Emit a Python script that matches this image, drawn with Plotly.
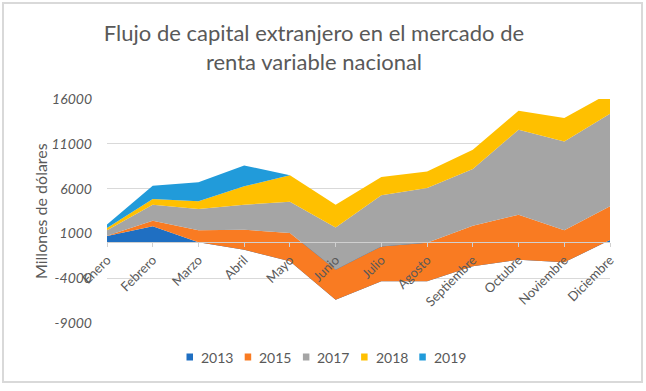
import plotly.graph_objects as go

months = ["Enero", "Febrero", "Marzo", "Abril", "Mayo", "Junio", "Julio",
          "Agosto", "Septiembre", "Octubre", "Noviembre", "Diciembre"]

y2013 = [700, 1790, 0, -820, -2120, -6400, -4350, -4350, -2680, -1930, -2230, 250]
y2015 = [50, 630, 1340, 2230, 3160, 3350, 3900, 4300, 4540, 5020, 3570, 3770]
y2017 = [600, 1780, 2380, 2790, 3500, 4720, 5700, 6110, 6320, 9480, 9930, 10340]
y2018 = [260, 640, 860, 2050, 2940, 2530, 2040, 1860, 2160, 2120, 2610, 2340]
y2019 = [370, 1480, 2120, 2340, 0, 0, 0, 0, 0, 0, 0, 0]

series_names = ["2013", "2015", "2017", "2018", "2019"]
series_values = [y2013, y2015, y2017, y2018, y2019]
colors = ["#1F6FC2", "#F97B22", "#A5A5A5", "#FFC000", "#219BDA"]

y_ticks = [-9000, -4000, 1000, 6000, 11000, 16000]

TXT = "#595959"
FONT = "Lato"

# layout geometry (pixels)
W, H = 646, 391
L, R, T, B = 107, 36, 99, 68
PW, PH = W - L - R, H - T - B


def px(x):
    return (x - L) / PW


def py(y):
    return (H - B - y) / PH


fig = go.Figure()
for name, vals, col in zip(series_names, series_values, colors):
    fig.add_trace(go.Scatter(
        x=months, y=vals, name=name, stackgroup="one", mode="none",
        fillcolor=col, line=dict(width=0), showlegend=False, hoverinfo="x+y+name"))

# legend drawn as squares + text, horizontally centred under the chart
legend_start, legend_step, legend_y = 186.5, 58.2, 357
shapes = [dict(type="rect", xref="paper", yref="paper",
               x0=px(3), x1=px(642), y0=py(382), y1=py(3),
               line=dict(color="#D9D9D9", width=2), layer="below")]
annotations = [dict(text="Millones de dólares", textangle=-90, showarrow=False,
                    xref="paper", yref="paper", x=px(40), y=py(211),
                    xanchor="center", yanchor="middle",
                    font=dict(size=16, color=TXT, family=FONT))]
for i, (name, col) in enumerate(zip(series_names, colors)):
    x0 = legend_start + i * legend_step
    shapes.append(dict(type="rect", xref="paper", yref="paper",
                       x0=px(x0), x1=px(x0 + 6.5), y0=py(legend_y + 3.5), y1=py(legend_y - 3.5),
                       fillcolor=col, line=dict(width=0)))
    annotations.append(dict(text=name, showarrow=False, xref="paper", yref="paper",
                            x=px(x0 + 12.5), y=py(legend_y), xanchor="left", yanchor="middle",
                            font=dict(size=14, color=TXT, family=FONT)))

fig.update_layout(
    width=W, height=H,
    margin=dict(l=L, r=R, t=T, b=B, autoexpand=False),
    paper_bgcolor="white", plot_bgcolor="white",
    font=dict(family=FONT, color=TXT),
    showlegend=False,
    title=dict(text="Flujo de capital extranjero en el mercado de<br>renta variable nacional",
               x=314 / W, xref="container", xanchor="center",
               y=1 - 41 / H, yref="container", yanchor="middle",
               font=dict(family=FONT, size=22, color=TXT)),
    xaxis=dict(type="category", categoryorder="array", categoryarray=months,
               range=[0, 11], anchor="free", position=9000 / 25000, automargin=False,
               showgrid=False, zeroline=False, showline=True, linecolor="#D0D0D0", linewidth=1,
               ticks="outside", ticklen=4, tickcolor="#D0D0D0", tickangle=-45,
               tickfont=dict(size=13, color=TXT, family=FONT)),
    yaxis=dict(range=[-9000, 16000], tickmode="array", tickvals=y_ticks,
               ticktext=[str(v) for v in y_ticks], automargin=False,
               showgrid=True, gridcolor="#D9D9D9", gridwidth=1, zeroline=False,
               showline=False, ticklabelstandoff=14,
               tickfont=dict(size=14, color=TXT, family=FONT, style="italic")),
    annotations=annotations,
    shapes=shapes,
)

fig.write_html("out.html", config={"displayModeBar": False},
               post_script="document.body.style.margin='0px';")
